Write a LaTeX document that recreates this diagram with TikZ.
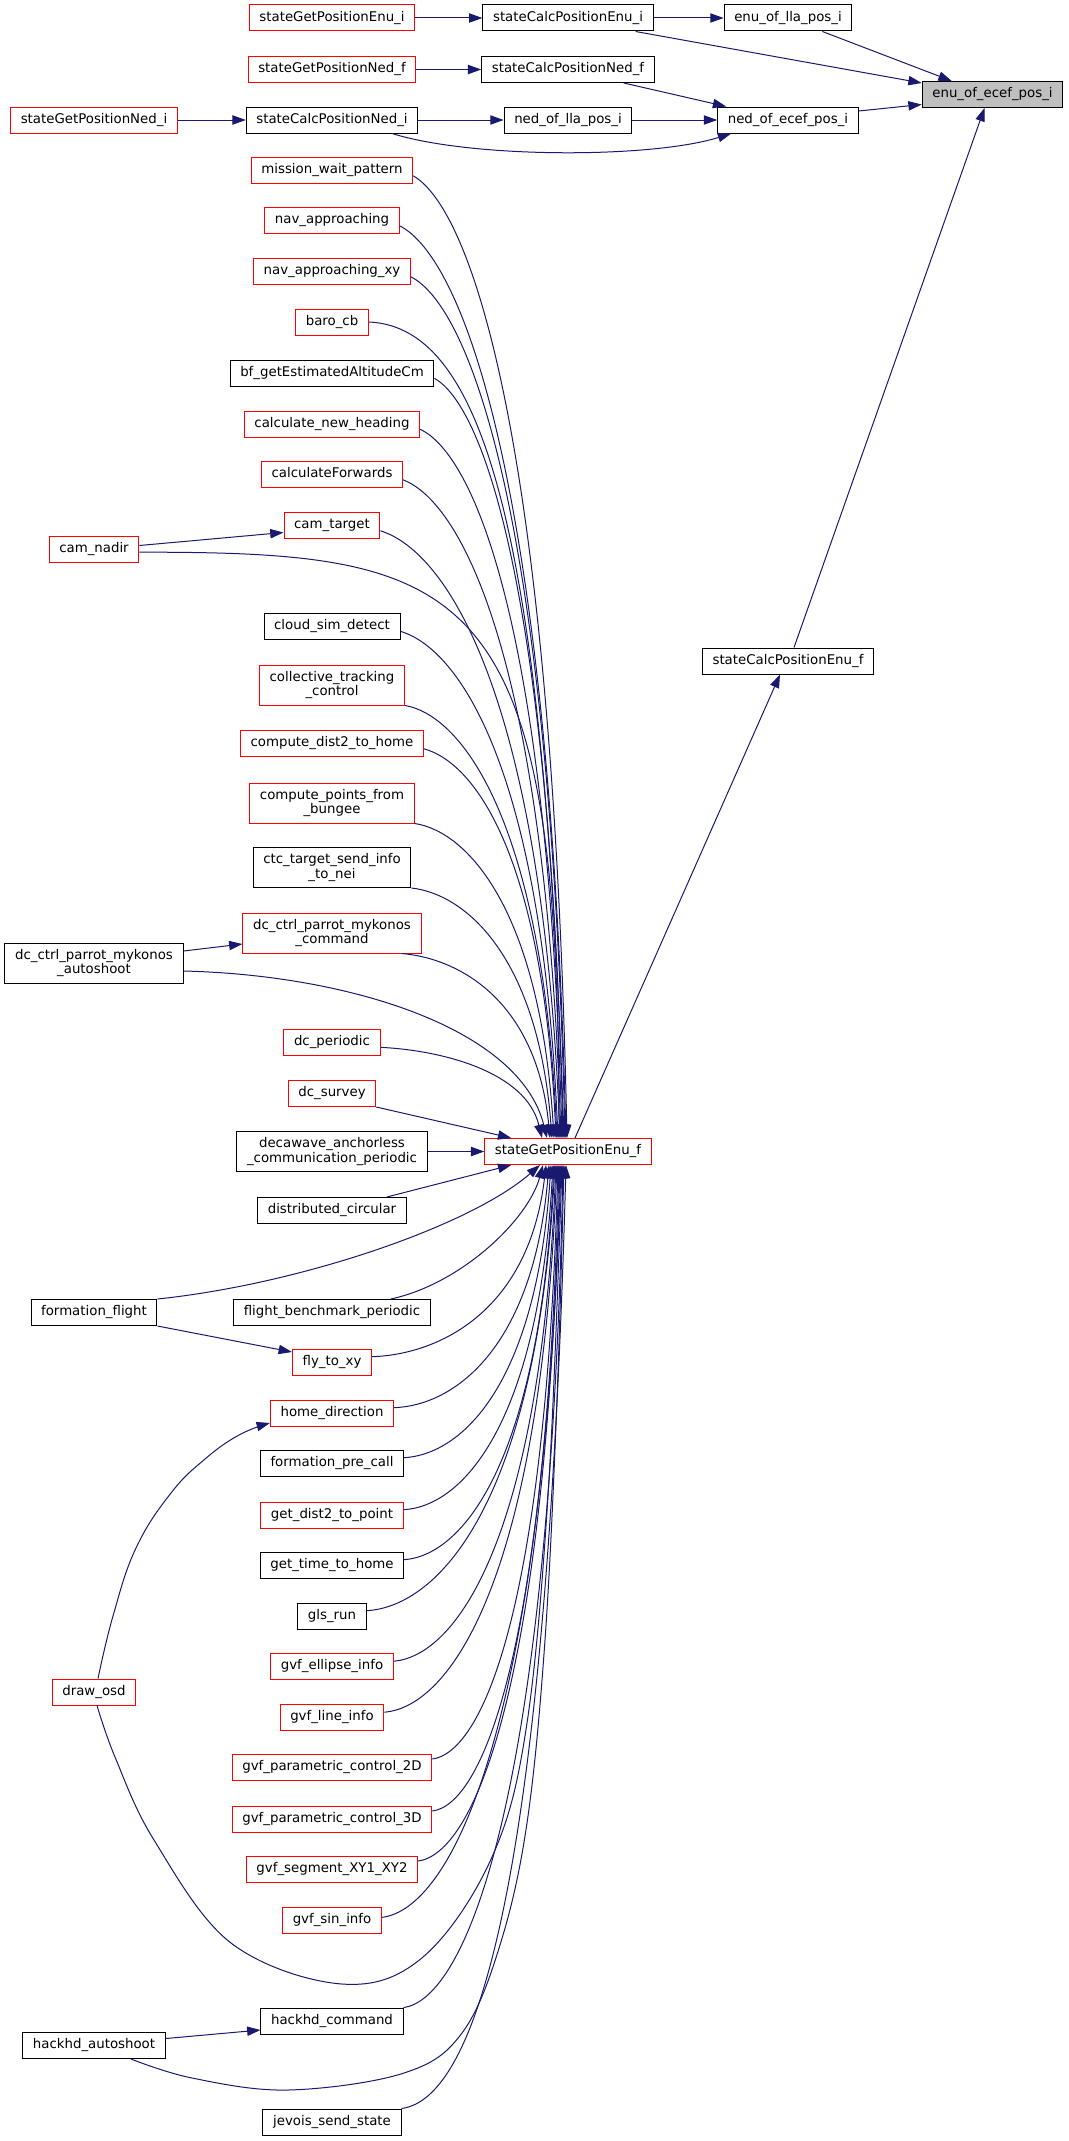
\documentclass[tikz,border=0pt]{standalone}
\usepackage{fontspec}
\setmainfont{DejaVu Sans}
\usetikzlibrary{arrows.meta, calc}
\definecolor{doxblue}{HTML}{191970}
\definecolor{doxred}{HTML}{FF0000}
\definecolor{doxgrey}{HTML}{BFBFBF}
\tikzset{
  fn/.style={draw=black, fill=white, line width=0.75pt, font=\fontsize{10}{11}\selectfont, inner xsep=7.6pt, inner ysep=0pt, minimum height=19.5pt, text height=7.6pt, text depth=2.4pt},
  fntwo/.style={draw=black, fill=white, line width=0.75pt, font=\fontsize{10}{11}\selectfont, align=center, inner xsep=7.6pt, inner ysep=0pt, minimum height=30pt},
  trunc/.style={draw=doxred},
  root/.style={fill=doxgrey},
  arr/.style={draw=doxblue, line width=0.75pt, -{Triangle[length=10pt,width=7pt]}}
}
\begin{document}
\begin{tikzpicture}[x=0.75pt, y=-0.75pt]
\useasboundingbox (0,0) rectangle (1069,2141);

% top part
\node[fn, trunc] (getEnuI) at (332,18) {stateGetPositionEnu\_i};
\node[fn] (calcEnuI) at (568,18) {stateCalcPositionEnu\_i};
\node[fn] (enuLla) at (788,18) {enu\_of\_lla\_pos\_i};
\node[fn, root] (enuEcef) at (992.5,94.5) {enu\_of\_ecef\_pos\_i};
\node[fn, trunc] (getNedF) at (332,69.5) {stateGetPositionNed\_f};
\node[fn] (calcNedF) at (568,69.5) {stateCalcPositionNed\_f};
\node[fn, trunc] (getNedI) at (94,120) {stateGetPositionNed\_i};
\node[fn] (calcNedI) at (332,120) {stateCalcPositionNed\_i};
\node[fn] (nedLla) at (568,120) {ned\_of\_lla\_pos\_i};
\node[fn] (nedEcef) at (788,120) {ned\_of\_ecef\_pos\_i};
\node[fn] (calcEnuF) at (788,661) {stateCalcPositionEnu\_f};
\node[fn, trunc] (getEnuF) at (568,1151.5) {stateGetPositionEnu\_f};

% callers of stateGetPositionEnu_f
\node[fn, trunc] (mission) at (332,170.5) {mission\_wait\_pattern};
\node[fn, trunc] (navAppr) at (332,220.5) {nav\_approaching};
\node[fn, trunc] (navApprXY) at (332,271.5) {nav\_approaching\_xy};
\node[fn, trunc] (baro) at (332,322) {baro\_cb};
\node[fn] (bfAlt) at (332,373) {bf\_getEstimatedAltitudeCm};
\node[fn, trunc] (calcHeading) at (332,424) {calculate\_new\_heading};
\node[fn, trunc] (calcFwd) at (332,474.5) {calculateForwards};
\node[fn, trunc] (camTarget) at (332,525.5) {cam\_target};
\node[fn, trunc] (camNadir) at (94,549.5) {cam\_nadir};
\node[fn] (cloud) at (332,626) {cloud\_sim\_detect};
\node[fntwo, trunc] (collective) at (332,685) {collective\_tracking\\\_control};
\node[fn, trunc] (dist2home) at (332,743.5) {compute\_dist2\_to\_home};
\node[fntwo, trunc] (bungee) at (332,803) {compute\_points\_from\\\_bungee};
\node[fntwo] (ctc) at (332,867.5) {ctc\_target\_send\_info\\\_to\_nei};
\node[fntwo, trunc] (dcCmd) at (332,933) {dc\_ctrl\_parrot\_mykonos\\\_command};
\node[fntwo] (dcAuto) at (94,963) {dc\_ctrl\_parrot\_mykonos\\\_autoshoot};
\node[fn, trunc] (dcPeriodic) at (332,1042) {dc\_periodic};
\node[fn, trunc] (dcSurvey) at (332,1093.5) {dc\_survey};
\node[fntwo] (decawave) at (332,1151.5) {decawave\_anchorless\\\_communication\_periodic};
\node[fn] (distCirc) at (332,1210.5) {distributed\_circular};
\node[fn] (formFlight) at (94,1312.5) {formation\_flight};
\node[fn] (benchmark) at (332,1312.5) {flight\_benchmark\_periodic};
\node[fn, trunc] (flyXY) at (332,1362) {fly\_to\_xy};
\node[fn, trunc] (homeDir) at (332,1413) {home\_direction};
\node[fn] (preCall) at (332,1463) {formation\_pre\_call};
\node[fn, trunc] (dist2pt) at (332,1515) {get\_dist2\_to\_point};
\node[fn] (time2home) at (332,1565) {get\_time\_to\_home};
\node[fn] (gls) at (332,1616) {gls\_run};
\node[fn, trunc] (gvfEllipse) at (332,1666.5) {gvf\_ellipse\_info};
\node[fn, trunc] (gvfLine) at (332,1717.5) {gvf\_line\_info};
\node[fn, trunc] (drawOsd) at (94,1692) {draw\_osd};
\node[fn, trunc] (gvfTwo) at (332,1767) {gvf\_parametric\_control\_2D};
\node[fn, trunc] (gvfThree) at (332,1819) {gvf\_parametric\_control\_3D};
\node[fn, trunc] (gvfSeg) at (332,1869) {gvf\_segment\_XY1\_XY2};
\node[fn, trunc] (gvfSin) at (332,1920) {gvf\_sin\_info};
\node[fn] (hackCmd) at (332,2021) {hackhd\_command};
\node[fn] (hackAuto) at (94,2045.5) {hackhd\_autoshoot};
\node[fn] (jevois) at (332,2122) {jevois\_send\_state};

% top edges
\draw[arr] (getEnuI) -- (calcEnuI);
\draw[arr] (calcEnuI) -- (enuLla);
\draw[arr] ($(calcEnuI.south east)+(-18,0)$) -- ($(enuEcef.north west)+(0,2)$);
\draw[arr] ($(enuLla.south east)+(-30,0)$) -- ($(enuEcef.north west)+(30,0)$);
\draw[arr] (getNedF) -- (calcNedF);
\draw[arr] ($(calcNedF.south east)+(-31,0)$) -- ($(nedEcef.north west)+(9,0)$);
\draw[arr] (getNedI) -- (calcNedI);
\draw[arr] (calcNedI) -- (nedLla);
\draw[arr] (nedLla) -- (nedEcef);
\draw[arr] ($(calcNedI.south)+(60,0)$) .. controls +(80,25) and +(-80,25) .. ($(nedEcef.south west)+(14,0)$);
\draw[arr] ($(nedEcef.east)+(0,-9)$) -- ($(enuEcef.west)+(0,10)$);
\draw[arr] ($(calcEnuF.north)+(6,0)$) -- ($(enuEcef.south)+(-8,0)$);
\draw[arr] ($(getEnuF.north)+(7,0)$) -- ($(calcEnuF.south)+(-8,0)$);

% left column edges
\draw[arr] ($(camNadir.east)+(0,-4)$) -- ($(camTarget.west)+(0,7)$);
\draw[arr] ($(dcAuto.east)+(0,-12)$) -- ($(dcCmd.west)+(0,11)$);
\draw[arr] (formFlight.south east) -- ($(flyXY.west)+(0,-10)$);
\draw[arr] ($(hackAuto.east)+(0,-7)$) -- ($(hackCmd.west)+(0,9)$);
\coordinate (osdTop) at ($(drawOsd.north)+(4,0)$);
\coordinate (homeIn) at ($(homeDir.west)+(0,10)$);
\draw[arr] plot[smooth, tension=.7] coordinates {(osdTop) (113,1616) (136,1548) (171,1493) (205,1459) (239,1435) (homeIn)};

% fan into stateGetPositionEnu_f from above
\draw[arr] ([yshift=-4pt]mission.east) .. controls +(59,34) and +(-15,-694) .. ($(getEnuF.north)+(-1,0)$);
\draw[arr] ([yshift=-4pt]navAppr.east) .. controls +(63,32) and +(-17,-657) .. ($(getEnuF.north)+(-2,0)$);
\draw[arr] ([yshift=-4pt]navApprXY.east) .. controls +(59,30) and +(-15,-621) .. ($(getEnuF.north)+(-3,0)$);
\draw[arr] (baro.east) .. controls +(120,5) and +(-20,-585) .. ($(getEnuF.north)+(-4,0)$);
\draw[arr] ([yshift=-4pt]bfAlt.east) .. controls +(49,27) and +(-13,-548) .. ($(getEnuF.north)+(-5,0)$);
\draw[arr] ([yshift=-4pt]calcHeading.east) .. controls +(54,25) and +(-14,-511) .. ($(getEnuF.north)+(-6,0)$);
\draw[arr] ([yshift=-4pt]calcFwd.east) .. controls +(60,23) and +(-16,-475) .. ($(getEnuF.north)+(-7,0)$);
\draw[arr] ([yshift=-4pt]camTarget.east) .. controls +(68,21) and +(-18,-438) .. ($(getEnuF.north)+(-8,0)$);
\draw[arr] ([yshift=-2pt]camNadir.east) .. controls +(330,0) and +(0,-560) .. ($(getEnuF.north)+(-9,0)$);
\draw[arr] ([yshift=-4pt]cloud.east) .. controls +(60,18) and +(-16,-366) .. ($(getEnuF.north)+(-10,0)$);
\draw[arr] (collective.south east) .. controls +(58,10) and +(-15,-315) .. ($(getEnuF.north)+(-11,0)$);
\draw[arr] ([yshift=-4pt]dist2home.east) .. controls +(51,14) and +(-13,-282) .. ($(getEnuF.north)+(-12,0)$);
\draw[arr] (bungee.south east) .. controls +(53,8) and +(-14,-228) .. ($(getEnuF.north)+(-14,0)$);
\draw[arr] (ctc.south east) .. controls +(54,6) and +(-14,-182) .. ($(getEnuF.north)+(-16,0)$);
\draw[arr] ([xshift=-15pt]dcCmd.south east) .. controls +(60,5) and +(-13,-135) .. ($(getEnuF.north)+(-18,0)$);
\draw[arr] ([yshift=-6pt]dcAuto.east) .. controls +(167,4) and +(-27,-109) .. ($(getEnuF.north)+(-21,0)$);
\draw[arr] ([yshift=-4pt]dcPeriodic.east) .. controls +(62,3) and +(-16,-66) .. ($(getEnuF.north)+(-26,0)$);
\draw[arr] (dcSurvey.south east) -- ($(getEnuF.north west)+(27,0)$);
\draw[arr] (decawave) -- (getEnuF);

% fan into stateGetPositionEnu_f from below
\draw[arr] ($(distCirc.north east)+(-20,0)$) -- ($(getEnuF.south west)+(27,0)$);
\draw[arr] (formFlight.north east) .. controls +(143,-15) and +(-70,61) .. ($(getEnuF.south)+(-28,0)$);
\draw[arr] ($(benchmark.north east)+(-40,0)$) .. controls +(70,-15) and +(-15,55) .. ($(getEnuF.south)+(-25,0)$);
\draw[arr] ([yshift=4pt]flyXY.east) .. controls +(66,-2) and +(-17,147) .. ($(getEnuF.south)+(-22,0)$);
\draw[arr] ([yshift=4pt]homeDir.east) .. controls +(59,-2) and +(-16,185) .. ($(getEnuF.south)+(-19,0)$);
\draw[arr] ([yshift=4pt]preCall.east) .. controls +(56,-3) and +(-15,223) .. ($(getEnuF.south)+(-17,0)$);
\draw[arr] ([yshift=4pt]dist2pt.east) .. controls +(57,-3) and +(-15,263) .. ($(getEnuF.south)+(-15,0)$);
\draw[arr] ([yshift=4pt]time2home.east) .. controls +(57,-4) and +(-15,301) .. ($(getEnuF.south)+(-14,0)$);
\draw[arr] ([yshift=4pt]gls.east) .. controls +(71,-4) and +(-19,340) .. ($(getEnuF.south)+(-13,0)$);
\draw[arr] ([yshift=4pt]gvfEllipse.east) .. controls +(61,-5) and +(-16,378) .. ($(getEnuF.south)+(-12,0)$);
\draw[arr] ([yshift=4pt]gvfLine.east) .. controls +(65,-5) and +(-17,417) .. ($(getEnuF.south)+(-11,0)$);
\draw[arr] ([yshift=6pt]gvfTwo.east) .. controls +(48,-6) and +(-13,454) .. ($(getEnuF.south)+(-10,0)$);
\draw[arr] ([yshift=6pt]gvfThree.east) .. controls +(49,-6) and +(-13,494) .. ($(getEnuF.south)+(-9,0)$);
\draw[arr] ([yshift=6pt]gvfSeg.east) .. controls +(54,-7) and +(-14,532) .. ($(getEnuF.south)+(-8,0)$);
\draw[arr] ([yshift=2pt]gvfSin.east) .. controls +(68,-8) and +(-18,571) .. ($(getEnuF.south)+(-7,0)$);
\coordinate (osdBot) at ($(drawOsd.south)+(3,0)$);
\coordinate (osdEnd) at ($(getEnuF.south)+(-6,0)$);
\draw[arr] plot[smooth, tension=.6] coordinates {(osdBot) (115,1757) (154,1840) (231,1943) (342,1984) (423,1957) (492,1857) (527,1723) (549,1480) (osdEnd)};
\draw[arr] (hackCmd.north east) .. controls +(62,-8) and +(-13,636) .. ($(getEnuF.south)+(-5,0)$);
\coordinate (hackBot) at ($(hackAuto.south)+(37,0)$);
\coordinate (hackEnd) at ($(getEnuF.south)+(-4,0)$);
\draw[arr] plot[smooth, tension=.6] coordinates {(hackBot) (192,2078) (288,2090) (404,2073) (462,2033) (500,1945) (527,1823) (545,1640) (557,1400) (hackEnd)};
\draw[arr] (jevois.north east) .. controls +(75,-10) and +(-20,720) .. ($(getEnuF.south)+(-2,0)$);
\end{tikzpicture}
\end{document}
